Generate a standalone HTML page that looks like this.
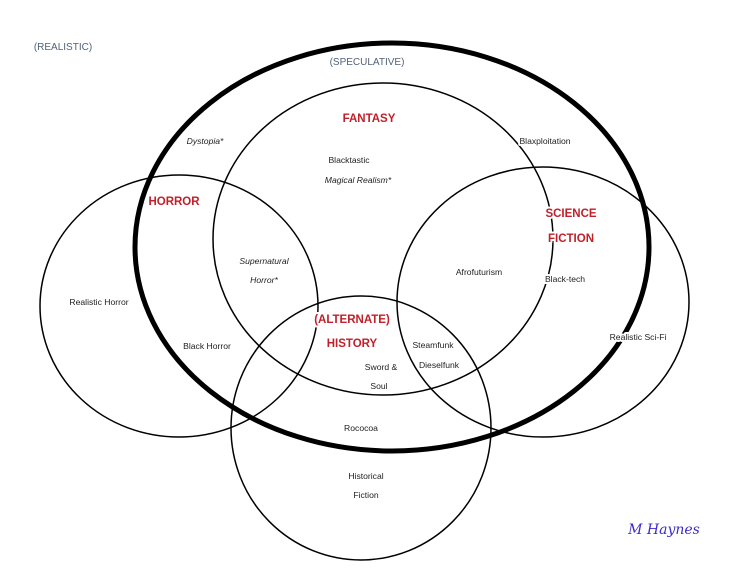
<!DOCTYPE html>
<html><head><style>
body{margin:0;background:#fff;}
svg text{font-family:"Liberation Sans",sans-serif;font-size:8.6px;fill:#222;text-anchor:middle;stroke:#fff;stroke-width:4px;paint-order:stroke;stroke-linejoin:round;}
.r{fill:#c0202a;font-weight:bold;font-size:11.5px;}
.i{font-style:italic;}
.g{fill:#51627a;font-size:10px;}
</style></head><body>
<svg width="750" height="580" viewBox="0 0 750 580" xmlns="http://www.w3.org/2000/svg">
<rect width="750" height="580" fill="#fff"/>
<g fill="none" stroke="#000" stroke-width="1.5">
<ellipse cx="179" cy="306" rx="139" ry="131"/>
<ellipse cx="543" cy="302" rx="146" ry="135"/>
<ellipse cx="383" cy="239" rx="170" ry="156"/>
<ellipse cx="361" cy="428" rx="130" ry="132"/>
</g>
<ellipse cx="392" cy="247" rx="257" ry="204" fill="none" stroke="#000" stroke-width="5"/>
<text x="63" y="50" class="g">(REALISTIC)</text>
<text x="367" y="65" class="g">(SPECULATIVE)</text>
<text x="369" y="122" class="r">FANTASY</text>
<text x="205" y="144" class="i">Dystopia*</text>
<text x="545" y="144">Blaxploitation</text>
<text x="349" y="163">Blacktastic</text>
<text x="358" y="183" class="i">Magical Realism*</text>
<text x="174" y="205" class="r">HORROR</text>
<text x="571" y="217" class="r">SCIENCE</text>
<text x="571" y="242" class="r">FICTION</text>
<text x="264" y="264" class="i">Supernatural</text>
<text x="264" y="283" class="i">Horror*</text>
<text x="479" y="275">Afrofuturism</text>
<text x="565" y="282">Black-tech</text>
<text x="99" y="305">Realistic Horror</text>
<text x="638" y="340">Realistic Sci-Fi</text>
<text x="352" y="323" class="r">(ALTERNATE)</text>
<text x="352" y="347" class="r">HISTORY</text>
<text x="433" y="348">Steamfunk</text>
<text x="207" y="349">Black Horror</text>
<text x="439" y="368">Dieselfunk</text>
<text x="381" y="370">Sword &amp;</text>
<text x="379" y="389">Soul</text>
<text x="361" y="431">Rococoa</text>
<text x="366" y="479">Historical</text>
<text x="366" y="498">Fiction</text>
<text x="664" y="534" style="font-family:'DejaVu Serif',serif;font-style:italic;font-size:14px;fill:#3a2ccc;stroke:none;">M Haynes</text>
</svg>
</body></html>
